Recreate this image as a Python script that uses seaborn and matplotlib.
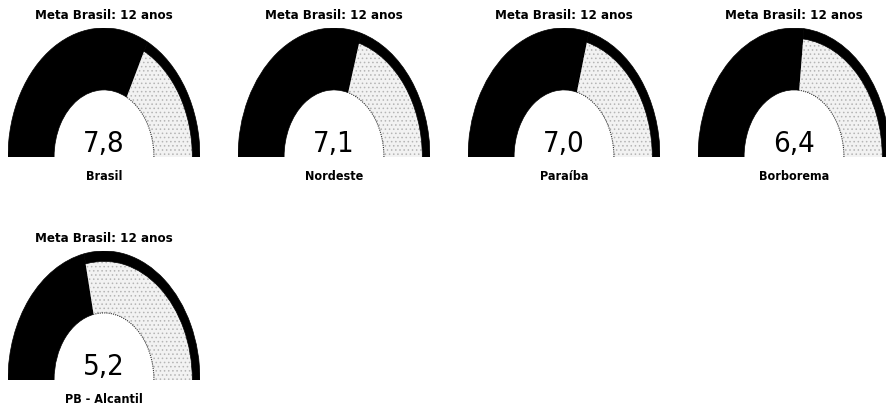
import numpy as np
import matplotlib
matplotlib.use("Agg")
import matplotlib.pyplot as plt
import seaborn as sns
from matplotlib.patches import Wedge

sns.set_theme(style="white")
plt.rcParams['font.family'] = ['DejaVu Sans']
plt.rcParams['font.stretch'] = 'condensed'
plt.rcParams['hatch.linewidth'] = 0.6

# dados
locais = ["Brasil", "Nordeste", "Paraíba", "Borborema", "PB - Alcantil"]
valores = [7.8, 7.1, 7.0, 6.4, 5.2]
rotulos = ["7,8", "7,1", "7,0", "6,4", "5,2"]
meta = 12
titulo = "Meta Brasil: 12 anos"

W, H = 887, 412
fig = plt.figure(figsize=(W / 100, H / 100), dpi=100)

# posição (centro x, base y em pixels a partir do topo)
posicoes = [(104, 157), (334, 157), (564, 157), (794, 157), (104, 380)]
gw, gh = 192, 129
r_in, r_gray = 0.52, 0.92

for nome, val, rot, (cx, by) in zip(locais, valores, rotulos, posicoes):
    ax = fig.add_axes([(cx - gw / 2) / W, (H - by) / H, gw / W, gh / H])
    ax.set_xlim(-1, 1)
    ax.set_ylim(0, 1)
    ax.axis("off")

    ang = 180 - val / meta * 180
    # parte preta (valor atingido)
    ax.add_patch(Wedge((0, 0), 1.0, ang, 180, width=1.0 - r_in,
                       facecolor="black", edgecolor="black", lw=0.5))
    # restante até a meta (pontilhado)
    ax.add_patch(Wedge((0, 0), r_gray, 0, ang, width=r_gray - r_in,
                       facecolor="#f2f2f2", edgecolor="#b5b5b5", hatch="....",
                       lw=0))
    # borda externa preta
    ax.add_patch(Wedge((0, 0), 1.0, 0, ang, width=1.0 - r_gray,
                       facecolor="black", edgecolor="black", lw=0.5))
    t = np.radians(np.linspace(0, ang, 60))
    ax.plot(r_in * np.cos(t), r_in * np.sin(t), color="#333333", lw=0.8,
            ls=(0, (1, 1)))

    ax.text(0, 1.10, titulo, ha="center", va="center", fontsize=9.5,
            fontweight="bold", color="black", clip_on=False)
    ax.text(0, -0.01, rot, ha="center", va="bottom", fontsize=21,
            color="black", clip_on=False)
    ax.text(0, -0.15, nome, ha="center", va="center", fontsize=9,
            fontweight="bold", color="black", clip_on=False)

fig.savefig("out.png", dpi=100, facecolor="white")
